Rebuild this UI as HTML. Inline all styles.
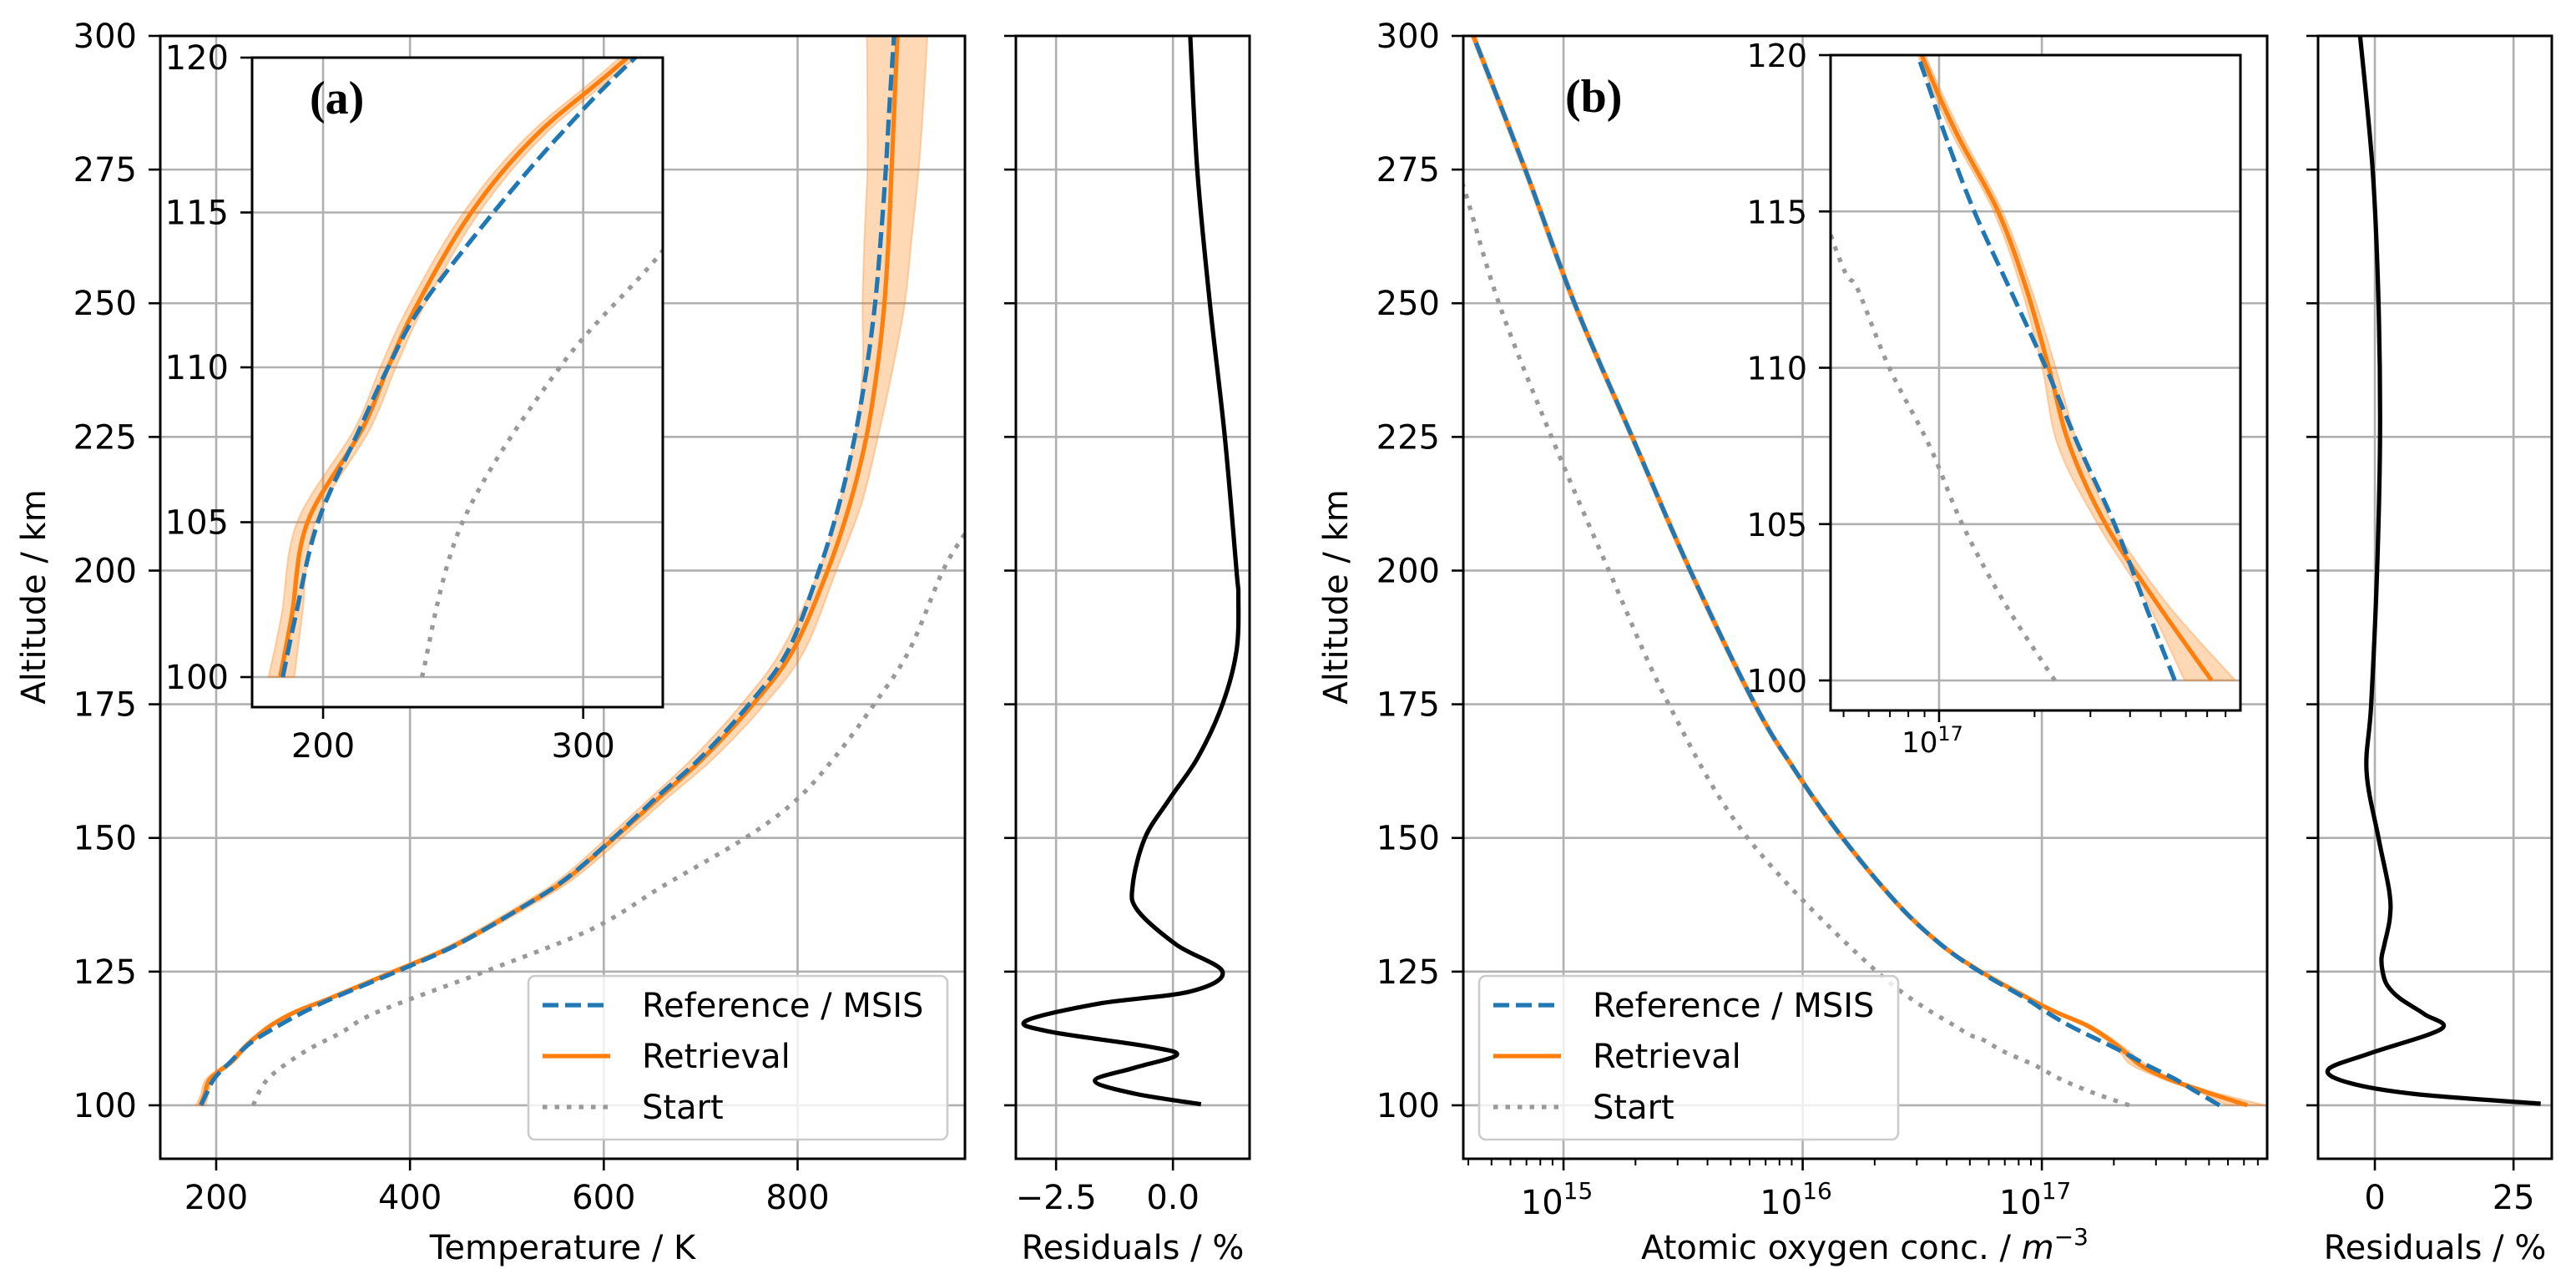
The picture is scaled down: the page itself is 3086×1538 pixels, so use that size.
<!DOCTYPE html>
<html><head><meta charset="utf-8">
<style>
html,body{margin:0;padding:0;background:#fff;}
svg{display:block;}
text{font-family:"DejaVu Sans","Liberation Sans",sans-serif;fill:#000;}
</style></head>
<body>
<svg id="fig" xmlns="http://www.w3.org/2000/svg" width="3086" height="1538" viewBox="0 0 3086 1538">
<rect x="0" y="0" width="3086" height="1538" fill="#fff"/>
</svg>
<script>
// ---------- Panel (a) temperature data ----------
const altRefA = [100,102,105,108,110,112,115,117.5,120,125,130,137.5,142.5,150,157.5,165,175,185,200,212.5,225,237.5,250,262.5,275,287.5,300];
const tRefA   = [184.5,189.5,198,214,225,238,265.5,291,320,386,448,520,562,610,654,700,750,790,822,843,859,871,880,886,891,895,899.5];
const altRetA = [100,102,105,108,110,112,115,117.5,120,125,130,137.5,142.5,150,157.5,165,175,185,200,212.5,225,237.5,250,262.5,275,287.5,300];
const tRetA   = [183.5,188,194,215,225,236,257,282,317,383,447,520,563,611,657,703,754,795,831,854,871,882,889.6,894,897,900,903];
const tLoA    = [179,184,190,212,222,233,254,279,314,379,442,514,556,603,648,692,742,783,822,843,859,867,867,869,872,872,871.5];
const tHiA    = [189,192,197,218,228,239,260,285,320,387,452,526,570,619,666,714,766,807,840,866,883,898,910.7,918,925,930,934];
const altStartA = [100,105,110,113.5,117.5,125,133,141,150,157,165,175,185,200,207,212];
const tStartA   = [238,253.6,291,328,367,477,588,661,746,798,838,879,915,950,973,990];
const altResA = [100.2,102.2,104.6,107,109.4,111,113.8,115.8,119,121.3,125,130,136.5,141.2,150,157.2,165,175,185,195,200,225,250,275,300];
const resA    = [0.6,-0.83,-1.67,-0.83,0.08,-0.53,-2.65,-3.14,-1.6,0.38,1.06,0.08,-0.76,-0.86,-0.6,-0.08,0.53,1.06,1.36,1.4,1.36,1.11,0.79,0.52,0.37];
const yTicksMain = [100,125,150,175,200,225,250,275,300];
const xTicksA = [200,400,600,800];
const xTicksInsetA = [200,300];
const yTicksInset = [100,105,110,115,120];
const xTicksResA = [-2.5,0.0];
const xTickLabelsResA = ["\u22122.5","0.0"];

// ---------- Panel (b) atomic oxygen data (log10 m^-3) ----------
const altRefB = [100,102.5,105,107.5,110,112.5,115,117.5,120,125,130,137.5,150,162.5,175,200,225,250,275,300];
const nRefB   = [17.743,17.647,17.553,17.44,17.337,17.224,17.111,17.017,16.932,16.74,16.58,16.4,16.167,15.97,15.8,15.53,15.287,15.046,14.84,14.623];
const altRetB = [100,102.5,105,107.5,110,112.5,115,117.5,120,125,130,137.5,150,162.5,175,200,225,250,275,300];
const nRetB   = [17.859,17.685,17.525,17.412,17.346,17.276,17.186,17.055,16.945,16.745,16.58,16.4,16.167,15.97,15.8,15.53,15.287,15.046,14.84,14.623];
const nLoB    = [17.774,17.655,17.5,17.375,17.325,17.26,17.172,17.04,16.933,16.734,16.57,16.39,16.157,15.96,15.79,15.52,15.277,15.036,14.83,14.613];
const nHiB    = [17.934,17.715,17.548,17.44,17.368,17.292,17.2,17.07,16.957,16.756,16.59,16.41,16.177,15.98,15.81,15.54,15.297,15.056,14.85,14.633];
const altStartB = [100,102.5,105,107.5,110,112.5,114.2,125,150,175,200,225,250,272,280];
const nStartB   = [17.365,17.205,17.073,16.97,16.843,16.744,16.66,16.31,15.77,15.44,15.19,14.95,14.73,14.58,14.5];
const altResB = [100.3,102.1,104.2,106.7,109.8,114.3,117,120,122.5,125,127.5,130,135,140,150,162.5,175,200,225,250,275,300];
const resB    = [29.9,7.3,-4.65,-8.4,-0.66,12,9,4.5,2.2,1.4,1.2,1.7,2.7,2.6,0.66,-1.5,-0.66,0.4,0.93,0.66,-0.4,-2.66];
const xDecadesB = [15,16,17];
const xTicksResB = [0,25];

const NS = "http://www.w3.org/2000/svg";
const svg = document.getElementById('fig');
const FS = 40;
function el(tag, attrs, parent){
  const e = document.createElementNS(NS, tag);
  for (const k in attrs) e.setAttribute(k, attrs[k]);
  (parent||svg).appendChild(e);
  return e;
}
function lin(d0,d1,r0,r1){ return v => r0 + (v-d0)/(d1-d0)*(r1-r0); }
function smoothPath(pts){
  if (pts.length<2) return '';
  let d = 'M'+pts[0][0].toFixed(2)+','+pts[0][1].toFixed(2);
  for (let i=0;i<pts.length-1;i++){
    const p0=pts[i-1]||pts[i], p1=pts[i], p2=pts[i+1], p3=pts[i+2]||p2;
    const c1=[p1[0]+(p2[0]-p0[0])/6, p1[1]+(p2[1]-p0[1])/6];
    const c2=[p2[0]-(p3[0]-p1[0])/6, p2[1]-(p3[1]-p1[1])/6];
    d += 'C'+c1[0].toFixed(2)+','+c1[1].toFixed(2)+' '+c2[0].toFixed(2)+','+c2[1].toFixed(2)+' '+p2[0].toFixed(2)+','+p2[1].toFixed(2);
  }
  return d;
}
let clipId = 0;
function makeAxes(name, L, R, T, B, xs, ys){
  const id = 'clip'+(clipId++);
  const cp = el('clipPath',{id:id});
  el('rect',{x:L,y:T,width:R-L,height:B-T},cp);
  const g = el('g',{});
  
  
  el('rect',{x:L,y:T,width:R-L,height:B-T,fill:'#fff'},g);
  const grid = el('g',{},g);
  
  
  const plot = el('g',{'clip-path':'url(#'+id+')'},g);
  
  
  return {L,R,T,B,xs,ys,g,grid,plot};
}
function gridX(ax, v){ const x=ax.xs(v); el('line',{x1:x,x2:x,y1:ax.T,y2:ax.B,stroke:'#b0b0b0','stroke-width':2.6},ax.grid); }
function gridY(ax, v){ const y=ax.ys(v); el('line',{x1:ax.L,x2:ax.R,y1:y,y2:y,stroke:'#b0b0b0','stroke-width':2.6},ax.grid); }
function spine(ax){
  el('rect',{x:ax.L,y:ax.T,width:ax.R-ax.L,height:ax.B-ax.T,fill:'none',stroke:'#000','stroke-width':3},ax.g);
}
function tickY(ax, v, label, fs){
  const y=ax.ys(v);
  el('line',{x1:ax.L-14,x2:ax.L,y1:y,y2:y,stroke:'#000','stroke-width':2.6},ax.g);
  if (label!==null){
    const t = el('text',{x:ax.L-28,y:y+14,'text-anchor':'end','font-size':fs||FS},ax.g);
    t.textContent = label;
    
    
  }
}
function tickX(ax, v, label, fs, len){
  const x=ax.xs(v);
  el('line',{x1:x,x2:x,y1:ax.B,y2:ax.B+(len||14),stroke:'#000','stroke-width':2.6},ax.g);
  if (label!==null){
    const t = el('text',{x:x,y:ax.B+60,'text-anchor':'middle','font-size':fs||FS},ax.g);
    t.textContent = label;
    
    
  }
}
function line(ax, xsArr, ysArr, stroke, extra, name){
  const pts = xsArr.map((v,i)=>[ax.xs(v), ax.ys(ysArr[i])]);
  const a = Object.assign({d:smoothPath(pts),fill:'none',stroke:stroke,'stroke-width':5.2},extra||{});
  const p = el('path',a,ax.plot);
  
  
  return p;
}
function band(ax, lo, hi, alts, name){
  const a = alts.map((v,i)=>[ax.xs(lo[i]), ax.ys(v)]);
  const b = alts.map((v,i)=>[ax.xs(hi[i]), ax.ys(v)]).reverse();
  const sb = smoothPath(b);
  const d = smoothPath(a) + 'L' + b[0][0].toFixed(2)+','+b[0][1].toFixed(2) + sb.slice(sb.indexOf('C')) + 'Z';
  const p = el('path',{d:d,fill:'#ff7f0e','fill-opacity':0.3,stroke:'#ff7f0e','stroke-opacity':0.3,'stroke-width':2},ax.plot);
  
  
}
function txt(x,y,s,attrs,name){
  const t = el('text',Object.assign({x:x,y:y},attrs||{}));
  t.textContent = s;
  
  
  return t;
}
const dashed = {'stroke-dasharray':'19 8'};
const dotted = {'stroke-dasharray':'5.5 9','stroke':'#999999'};

// ================= Panel (a) main =================
const axA = makeAxes('temperature-axes',192,1156,43,1388, lin(142.3,972.7,192,1156), lin(90,300,1388,43));
xTicksA.forEach(v=>gridX(axA,v)); yTicksMain.forEach(v=>gridY(axA,v));
band(axA, tLoA, tHiA, altRetA, 'retrieval-uncertainty-a');
line(axA, tStartA, altStartA, '#999999', dotted, 'start-line-a');
line(axA, tRetA, altRetA, '#ff7f0e', {}, 'retrieval-line-a');
line(axA, tRefA, altRefA, '#1f77b4', dashed, 'reference-line-a');
spine(axA);
yTicksMain.forEach(v=>tickY(axA,v,String(v)));
xTicksA.forEach(v=>tickX(axA,v,String(v)));
txt(40,715,'Altitude / km',{'text-anchor':'middle','font-size':FS,transform:'rotate(-90 40 715)',dy:14},'y-axis-title-a');
txt(674,1508,'Temperature / K',{'text-anchor':'middle','font-size':FS},'x-axis-title-a');

function legend(x,y,w,h,name){
  const g = el('g',{});
  
  
  el('rect',{x:x,y:y,width:w,height:h,rx:8,fill:'#fff','fill-opacity':0.8,stroke:'#cccccc','stroke-width':2.6},g);
  const rows = [['Reference / MSIS','#1f77b4',dashed],['Retrieval','#ff7f0e',{}],['Start','#999999',dotted]];
  rows.forEach((r,i)=>{
    const yy = y+35+i*61;
    const l = el('line',Object.assign({x1:x+17,x2:x+98,y1:yy,y2:yy,stroke:r[1],'stroke-width':5.2},r[2]),g);
    
    
    const t = el('text',{x:x+136,y:yy+14,'font-size':FS},g);
    t.textContent = r[0];
    
    
  });
}
legend(633,1169,502,196,'legend-a');

// ================= Panel (a) inset =================
const inA = makeAxes('temperature-inset',302,794,69,847, lin(172.7,330.6,302,794), lin(99.03,120,847,69));
xTicksInsetA.forEach(v=>gridX(inA,v)); yTicksInset.forEach(v=>gridY(inA,v));
band(inA, tLoA, tHiA, altRetA, 'retrieval-uncertainty-inset-a');
line(inA, tStartA, altStartA, '#999999', dotted, 'start-line-inset-a');
line(inA, tRetA, altRetA, '#ff7f0e', {}, 'retrieval-line-inset-a');
line(inA, tRefA, altRefA, '#1f77b4', dashed, 'reference-line-inset-a');
spine(inA);
yTicksInset.forEach(v=>tickY(inA,v,String(v)));
xTicksInsetA.forEach(v=>tickX(inA,v,String(v)));
txt(371,136,'(a)',{style:'font-family:"Liberation Serif","DejaVu Serif",serif;font-weight:bold;font-size:56px'},'panel-label-a');

// ================= Residuals (a) =================
const rA = makeAxes('residuals-axes-a',1217,1497,43,1388, lin(-3.36,1.64,1217,1497), lin(90,300,1388,43));
xTicksResA.forEach(v=>gridX(rA,v)); yTicksMain.forEach(v=>gridY(rA,v));
line(rA, resA, altResA, '#000', {}, 'residual-line-a');
spine(rA);
yTicksMain.forEach(v=>tickY(rA,v,null));
xTicksResA.forEach((v,i)=>tickX(rA,v,xTickLabelsResA[i]));
txt(1357,1508,'Residuals / %',{'text-anchor':'middle','font-size':FS},'x-axis-title-residuals-a');

// ================= Panel (b) main =================
const axB = makeAxes('oxygen-axes',1753,2716,43,1388, lin(14.581,17.942,1753,2716), lin(90,300,1388,43));
xDecadesB.forEach(v=>gridX(axB,v)); yTicksMain.forEach(v=>gridY(axB,v));
band(axB, nLoB, nHiB, altRetB, 'retrieval-uncertainty-b');
line(axB, nStartB, altStartB, '#999999', dotted, 'start-line-b');
line(axB, nRetB, altRetB, '#ff7f0e', {}, 'retrieval-line-b');
line(axB, nRefB, altRefB, '#1f77b4', dashed, 'reference-line-b');
spine(axB);
yTicksMain.forEach(v=>tickY(axB,v,String(v)));
function logTicks(ax, lo, hi, decades, lab, small){
  for (let d=Math.floor(lo); d<=Math.ceil(hi); d++){
    for (let m=1;m<10;m++){
      const v = d+Math.log10(m);
      if (v<lo||v>hi) continue;
      const x=ax.xs(v);
      if (m===1){
        el('line',{x1:x,x2:x,y1:ax.B,y2:ax.B+14,stroke:'#000','stroke-width':2.6},ax.g);
        if (lab && decades.indexOf(d)>=0){
          const t = el('text',{x:x-8,y:ax.B+(small?50:66),'text-anchor':'middle','font-size':small?34:FS},ax.g);
          
          
          const a = el('tspan',{},t); a.textContent='10';
          const b = el('tspan',{dy:small?-14:-18,'font-size':small?24:28},t); b.textContent=String(d);
        }
      } else {
        el('line',{x1:x,x2:x,y1:ax.B,y2:ax.B+8,stroke:'#000','stroke-width':2},ax.g);
      }
    }
  }
}
logTicks(axB,14.581,17.942,xDecadesB,true,false);
txt(1600,715,'Altitude / km',{'text-anchor':'middle','font-size':FS,transform:'rotate(-90 1600 715)',dy:14},'y-axis-title-b');
const xtb = txt(2234,1508,'Atomic oxygen conc. / ',{'text-anchor':'middle','font-size':FS},'x-axis-title-b');
const mt = el('tspan',{'font-style':'italic'},xtb); mt.textContent='m';
const et = el('tspan',{dy:-17,'font-size':28},xtb); et.textContent='\u22123';
legend(1772,1169,502,196,'legend-b');

// ================= Panel (b) inset =================
const inB = makeAxes('oxygen-inset',2193,2684,66,851, lin(16.658,17.95,2193,2684), lin(99.04,120,851,66));
gridX(inB,17); yTicksInset.forEach(v=>gridY(inB,v));
band(inB, nLoB, nHiB, altRetB, 'retrieval-uncertainty-inset-b');
line(inB, nStartB, altStartB, '#999999', dotted, 'start-line-inset-b');
line(inB, nRetB, altRetB, '#ff7f0e', {}, 'retrieval-line-inset-b');
line(inB, nRefB, altRefB, '#1f77b4', dashed, 'reference-line-inset-b');
spine(inB);
yTicksInset.forEach(v=>tickY(inB,v,String(v),38));
logTicks(inB,16.658,17.95,[17],true,true);
txt(1875,134,'(b)',{style:'font-family:"Liberation Serif","DejaVu Serif",serif;font-weight:bold;font-size:56px'},'panel-label-b');

// ================= Residuals (b) =================
const rB = makeAxes('residuals-axes-b',2777,3057,43,1388, lin(-10.24,31.9,2777,3057), lin(90,300,1388,43));
xTicksResB.forEach(v=>gridX(rB,v)); yTicksMain.forEach(v=>gridY(rB,v));
line(rB, resB, altResB, '#000', {}, 'residual-line-b');
spine(rB);
yTicksMain.forEach(v=>tickY(rB,v,null));
xTicksResB.forEach(v=>tickX(rB,v,String(v)));
txt(2917,1508,'Residuals / %',{'text-anchor':'middle','font-size':FS},'x-axis-title-residuals-b');
</script>
</body></html>
